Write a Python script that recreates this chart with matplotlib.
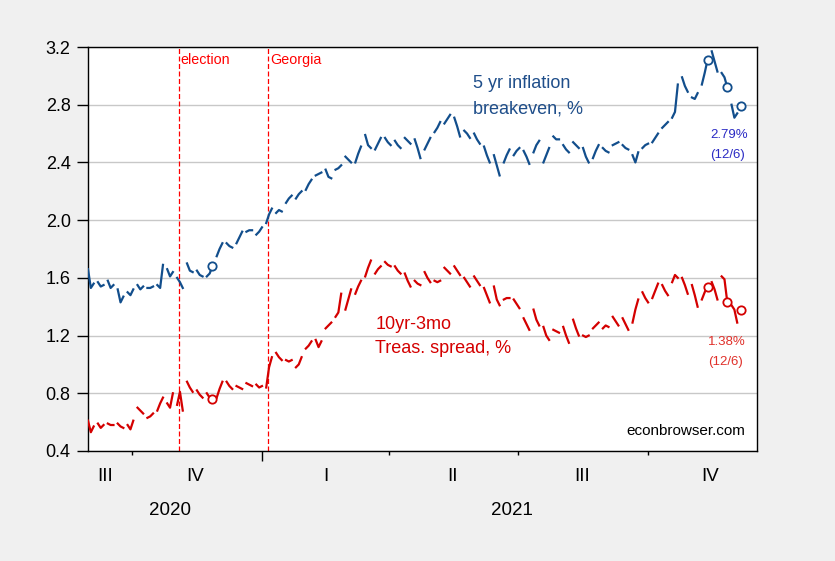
import numpy as np
import pandas as pd
import matplotlib
matplotlib.use('Agg')
import matplotlib.pyplot as plt
import matplotlib.dates as mdates
import matplotlib.transforms as mtrans

plt.rcParams['font.family'] = ['Liberation Sans', 'DejaVu Sans']

# weekly blocks, values read for Mon / Wed / Fri of each week (weekends left blank)
weeks = pd.date_range('2020-08-31', periods=67, freq='7D')
day_offsets = [0, 2, 4]

# 5 yr inflation breakeven, %
breakeven = [
    1.66, 1.53, 1.56,  1.57, 1.54, 1.55,  1.58, 1.53, 1.55,  1.52, 1.43, 1.47,   # Sep 2020
    1.50, 1.48, 1.52,  1.55, 1.52, 1.54,  1.53, 1.53, 1.54,  1.55, 1.53, 1.69,   # Oct
    1.66, 1.61, 1.64,  1.60, 1.57, 1.53,  1.70, 1.65, 1.64,  1.65, 1.62, 1.61,   # Nov
    1.61, 1.63, 1.68,  1.75, 1.80, 1.84,  1.84, 1.82, 1.81,  1.84, 1.88, 1.92,   # Dec
    1.92, 1.93, 1.93,  1.90, 1.92, 1.95,                                         # end 2020
    1.98, 2.04, 2.08,  2.05, 2.07, 2.06,  2.12, 2.15, 2.17,  2.15, 2.18, 2.20,   # Jan 2021
    2.21, 2.25, 2.28,  2.31, 2.32, 2.33,  2.35, 2.30, 2.29,  2.35, 2.36, 2.38,   # Feb
    2.44, 2.42, 2.40,  2.40, 2.46, 2.51,  2.59, 2.52, 2.50,  2.49, 2.53, 2.57,   # Mar
    2.57, 2.54, 2.52,  2.55, 2.52, 2.50,  2.57, 2.55, 2.53,  2.56, 2.50, 2.43,   # Apr
    2.49, 2.53, 2.57,  2.61, 2.64, 2.68,  2.67, 2.70, 2.73,  2.71, 2.65, 2.58,   # May
    2.62, 2.60, 2.57,  2.60, 2.56, 2.53,  2.51, 2.45, 2.40,  2.45, 2.38, 2.31,   # Jun
    2.40, 2.45, 2.49,  2.45, 2.48, 2.50,  2.48, 2.44, 2.39,  2.47, 2.52, 2.55,   # Jul
    2.40, 2.45, 2.50,  2.58, 2.56, 2.56,  2.52, 2.49, 2.47,  2.54, 2.52, 2.50,   # Aug
    2.50, 2.44, 2.40,  2.43, 2.48, 2.52,  2.50, 2.48, 2.47,  2.52, 2.53, 2.54,   # Sep
    2.52, 2.50, 2.49,  2.45, 2.40, 2.47,  2.50, 2.52, 2.53,  2.54, 2.57, 2.60,   # Oct
    2.64, 2.66, 2.68,  2.71, 2.75, 2.94,  2.99, 2.93, 2.89,  2.85, 2.84, 2.88,   # Nov
    2.94, 3.02, 3.11,  3.17, 3.10, 3.03,  3.02, 2.99, 2.92,  2.80, 2.71, 2.74,   # Dec
    2.79,
]

# 10yr-3mo Treasury spread, %
spread = [
    0.61, 0.53, 0.57,  0.59, 0.56, 0.58,  0.59, 0.58, 0.58,  0.59, 0.57, 0.56,
    0.58, 0.55, 0.61,  0.70, 0.68, 0.66,  0.63, 0.64, 0.66,  0.68, 0.73, 0.77,
    0.73, 0.70, 0.80,  0.72, 0.81, 0.68,  0.88, 0.84, 0.81,  0.82, 0.79, 0.77,
    0.80, 0.77, 0.76,  0.77, 0.83, 0.88,  0.88, 0.85, 0.83,  0.85, 0.84, 0.83,
    0.87, 0.86, 0.85,  0.86, 0.84, 0.85,
    0.84, 0.98, 1.05,  1.08, 1.05, 1.03,  1.03, 1.02, 1.03,  0.98, 1.00, 1.05,
    1.11, 1.13, 1.16,  1.17, 1.12, 1.16,  1.25, 1.27, 1.29,  1.33, 1.36, 1.49,
    1.38, 1.45, 1.52,  1.49, 1.54, 1.58,  1.61, 1.67, 1.72,  1.63, 1.66, 1.68,
    1.71, 1.69, 1.68,  1.68, 1.65, 1.63,  1.63, 1.58, 1.54,  1.58, 1.56, 1.55,
    1.64, 1.60, 1.57,  1.58, 1.57, 1.58,  1.67, 1.65, 1.63,  1.68, 1.65, 1.62,
    1.60, 1.57, 1.54,  1.61, 1.58, 1.55,  1.53, 1.48, 1.43,  1.54, 1.45, 1.41,
    1.45, 1.46, 1.46,  1.45, 1.42, 1.39,  1.32, 1.28, 1.24,  1.38, 1.31, 1.27,
    1.26, 1.20, 1.17,  1.24, 1.23, 1.22,  1.26, 1.20, 1.15,  1.31, 1.25, 1.20,
    1.20, 1.19, 1.20,  1.25, 1.27, 1.29,  1.25, 1.27, 1.26,  1.33, 1.30, 1.27,
    1.32, 1.28, 1.24,  1.29, 1.38, 1.45,  1.50, 1.46, 1.43,  1.46, 1.51, 1.56,
    1.55, 1.51, 1.48,  1.57, 1.62, 1.60,  1.60, 1.55, 1.49,  1.55, 1.48, 1.40,
    1.45, 1.50, 1.54,  1.57, 1.52, 1.45,  1.61, 1.59, 1.43,  1.41, 1.38, 1.29,
    1.38,
]

marked_days = ['2020-11-27', '2021-11-12', '2021-11-26', '2021-12-06']
event_days = ['2020-11-03', '2021-01-05']
event_names = ['election', 'Georgia']

quarter_names = ['III', 'IV', 'I', 'II', 'III', 'IV']
quarter_pos = ['2020-09-12', '2020-11-15', '2021-02-15', '2021-05-16', '2021-08-15', '2021-11-14']
year_names = ['2020', '2021']
year_pos = ['2020-10-28', '2021-06-27']


def build(values):
    """把每周的数值排成日期序列, 周末处插入NaN断开"""
    xs, ys = [], []
    for k, wk in enumerate(weeks):
        chunk = values[3 * k:3 * k + 3]
        for off, v in zip(day_offsets, chunk):
            xs.append(wk + pd.Timedelta(days=off))
            ys.append(v)
        xs.append(wk + pd.Timedelta(days=5))
        ys.append(np.nan)
    return pd.Series(ys, index=pd.DatetimeIndex(xs))


be = build(breakeven)
sp = build(spread)

blue = '#124E8C'
red = '#D40000'

fig = plt.figure(figsize=(8.35, 5.61), dpi=100, facecolor='#F0F0F0')
ax = fig.add_axes([0.1054, 0.1961, 0.8012, 0.7201])
ax.set_facecolor('white')

ax.plot(be.index, be.values, color=blue, lw=1.6, zorder=3)
ax.plot(sp.index, sp.values, color=red, lw=1.6, zorder=3)

md = pd.to_datetime(marked_days)
ax.plot(md, be.loc[md].values, 'o', ms=6, mfc='white', mec=blue, mew=1.3, zorder=4)
ax.plot(md, sp.loc[md].values, 'o', ms=6, mfc='white', mec=red, mew=1.3, zorder=4)

# 选举与佐治亚州决选
trans = mtrans.blended_transform_factory(ax.transData, ax.transAxes)
for d, name in zip(event_days, event_names):
    d = pd.Timestamp(d)
    ax.axvline(d, color='#FF0000', lw=0.9, ls=(0, (4, 2)), zorder=2)
    ax.text(d + pd.Timedelta(days=1.5), 0.968, name, transform=trans, color='#FF0000',
            fontsize=10.3, ha='left', va='center')

ax.set_xlim(pd.Timestamp('2020-08-31'), pd.Timestamp('2021-12-17'))
ax.set_ylim(0.4, 3.2)

ax.set_yticks(np.arange(0.4, 3.21, 0.4))
ax.set_yticklabels(['%.1f' % v for v in np.arange(0.4, 3.21, 0.4)], fontsize=13)
ax.tick_params(axis='y', direction='out', length=8, width=1, pad=4.5)
ax.yaxis.grid(True, color='#C8C8C8', lw=1)
ax.set_axisbelow(True)

ax.set_xticks([pd.Timestamp('2021-01-01')])
ax.set_xticks(pd.to_datetime(['2020-10-01', '2021-04-01', '2021-07-01', '2021-10-01']), minor=True)
ax.set_xticklabels([])
ax.tick_params(axis='x', which='major', direction='out', length=7, width=1)
ax.tick_params(axis='x', which='minor', direction='out', length=3.2, width=1)

for s in ax.spines.values():
    s.set_color('black')
    s.set_linewidth(1)

for name, p in zip(quarter_names, quarter_pos):
    ax.text(pd.Timestamp(p), -0.0636, name, transform=trans, fontsize=13.5,
            ha='center', va='center', color='black')
for name, p in zip(year_names, year_pos):
    ax.text(pd.Timestamp(p), -0.1478, name, transform=trans, fontsize=13.5,
            ha='center', va='center', color='black')

# 序列标注
ax.text(pd.Timestamp('2021-05-30'), 2.944, '5 yr inflation', color='#1F4E8A', fontsize=13, ha='left', va='center')
ax.text(pd.Timestamp('2021-05-30'), 2.770, 'breakeven, %', color='#1F4E8A', fontsize=13, ha='left', va='center')
ax.text(pd.Timestamp('2021-03-22'), 1.280, '10yr-3mo', color=red, fontsize=13, ha='left', va='center')
ax.text(pd.Timestamp('2021-03-22'), 1.107, 'Treas. spread, %', color=red, fontsize=13, ha='left', va='center')

ax.text(pd.Timestamp('2021-11-27'), 2.59, '%.2f%%' % breakeven[-1], color='#2B2BC4', fontsize=9.5, ha='center', va='center')
ax.text(pd.Timestamp('2021-11-26'), 2.45, '(12/6)', color='#2B2BC4', fontsize=9.5, ha='center', va='center')
ax.text(pd.Timestamp('2021-11-26'), 1.157, '%.2f%%' % spread[-1], color='#E0302A', fontsize=9.5, ha='center', va='center')
ax.text(pd.Timestamp('2021-11-25'), 1.019, '(12/6)', color='#E0302A', fontsize=9.5, ha='center', va='center')

ax.text(0.982, 0.050, 'econbrowser.com', transform=ax.transAxes, fontsize=11,
        ha='right', va='center', color='black')

fig.savefig('out.png', dpi=100, facecolor=fig.get_facecolor())
